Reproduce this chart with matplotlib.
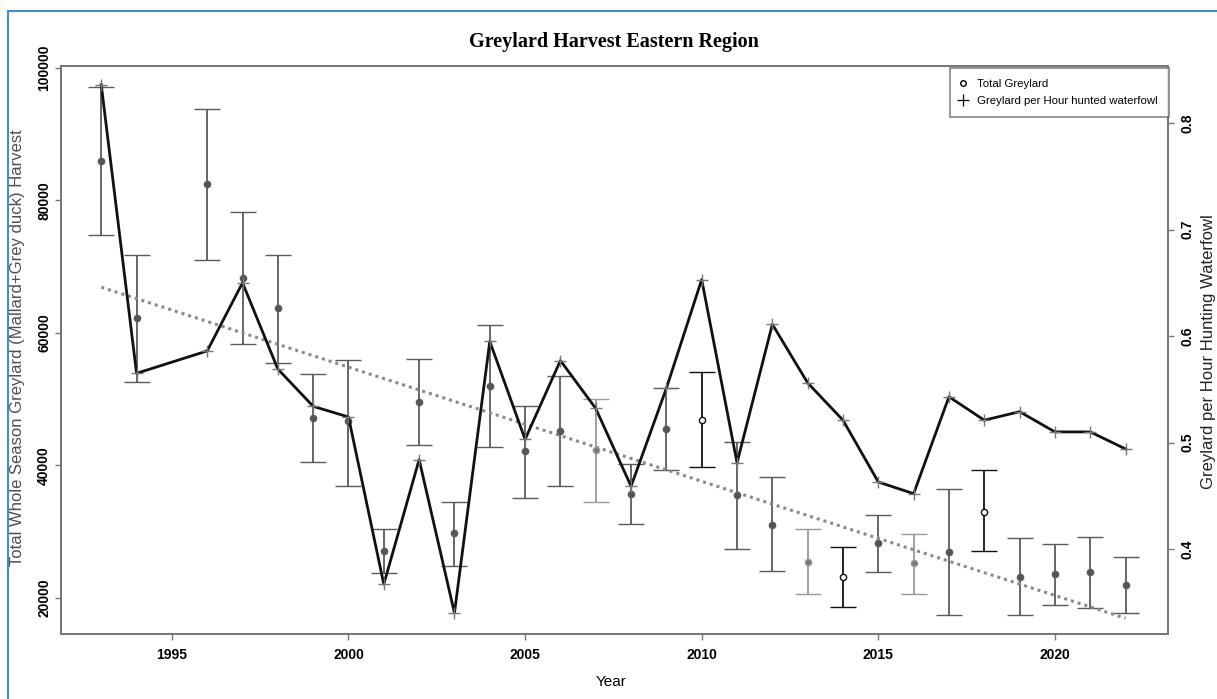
import numpy as np
import matplotlib
matplotlib.use("Agg")
import matplotlib.pyplot as plt
from matplotlib.lines import Line2D

# survey years (no survey in 1995)
years = [1993, 1994, 1996, 1997, 1998, 1999, 2000, 2001, 2002, 2003,
         2004, 2005, 2006, 2007, 2008, 2009, 2010, 2011, 2012, 2013,
         2014, 2015, 2016, 2017, 2018, 2019, 2020, 2021, 2022]

# total whole season greylard harvest with confidence limits
total_harvest = [86000, 62200, 82500, 68200, 63700, 47200, 46600, 27000, 49600, 29700,
                 52000, 42100, 45200, 42300, 35700, 45500, 46800, 35500, 31000, 25400,
                 23100, 28200, 25200, 26900, 33000, 23100, 23500, 23800, 21900]
harvest_upper = [97100, 71800, 93800, 78200, 71800, 53800, 55900, 30300, 56000, 34500,
                 61200, 48900, 53400, 50000, 40200, 51600, 54000, 43500, 38200, 30400,
                 27600, 32500, 29600, 36400, 39200, 29000, 28100, 29100, 26200]
harvest_lower = [74700, 52600, 71000, 58300, 55400, 40500, 36800, 23700, 43100, 24800,
                 42800, 35100, 36900, 34500, 31100, 39200, 39700, 27400, 24000, 20500,
                 18600, 23900, 20600, 17400, 27000, 17300, 18900, 18400, 17700]

# greylard per hour hunted waterfowl
per_hour = [0.836, 0.565, 0.586, 0.650, 0.569, 0.534, 0.524, 0.367, 0.484, 0.340,
            0.595, 0.503, 0.577, 0.532, 0.459, 0.551, 0.653, 0.481, 0.611, 0.556,
            0.521, 0.463, 0.452, 0.543, 0.521, 0.529, 0.510, 0.510, 0.494]

dark_years = {2010, 2014, 2018}
light_years = {2007, 2013, 2016}

fig = plt.figure(figsize=(12.17, 6.99), dpi=100)
ax = fig.add_axes([0.0501, 0.093, 0.9096, 0.8126])
ax2 = ax.twinx()

# error bars for total harvest
for yr, v, lo, hi in zip(years, total_harvest, harvest_lower, harvest_upper):
    if yr in dark_years:
        col, face = "#111111", "white"
    elif yr in light_years:
        col, face = "#9a9a9a", "#777777"
    else:
        col, face = "#5a5a5a", "#555555"
    ax.errorbar([yr], [v], yerr=[[v - lo], [hi - v]], fmt="o", color=col,
                ecolor=col, elinewidth=1.3, capsize=9.5, capthick=1.3,
                markersize=4.5, markerfacecolor=face, markeredgecolor=col,
                markeredgewidth=1)

# linear trend of total harvest
coef = np.polyfit(years, total_harvest, 1)
ty = np.array([years[0], years[-1]])
ax.plot(ty, np.polyval(coef, ty), color="#8a8a8a", lw=2.2,
        linestyle=(0, (1, 1.3)))

# per hour line
ax2.plot(years, per_hour, color="#111111", lw=2, marker="+",
         markersize=8, markeredgecolor="#777777", markeredgewidth=1)

ax.set_xlim(1991.86, 2023.2)
ax.set_ylim(14500, 100300)
ax2.set_ylim(0.3203, 0.8535)

ax.set_xticks([1995, 2000, 2005, 2010, 2015, 2020])
ax.set_yticks([20000, 40000, 60000, 80000, 100000])
ax2.set_yticks([0.4, 0.5, 0.6, 0.7, 0.8])
ax2.set_yticklabels(["0.4", "0.5", "0.6", "0.7", "0.8"])

for a in (ax, ax2):
    for s in a.spines.values():
        s.set_color("#777777")
        s.set_linewidth(1.3)
    a.tick_params(colors="#777777", labelcolor="black", length=4, width=1)
    for lab in a.get_xticklabels() + a.get_yticklabels():
        lab.set_fontfamily("Liberation Sans")
        lab.set_fontweight("bold")
        lab.set_fontsize(10)

ax.tick_params(axis="x", pad=6)
ax.tick_params(axis="y", pad=3)
ax2.tick_params(axis="y", pad=5)
for lab in ax.get_yticklabels():
    lab.set_rotation(90)
    lab.set_va("center")
for lab in ax2.get_yticklabels():
    lab.set_rotation(90)
    lab.set_va("center")

ax.set_xlabel("Year", family="Liberation Sans", fontsize=11)
ax.xaxis.set_label_coords(0.497, -0.072)

fig.text(18 / 1217, 1 - 348 / 699,
         "Total Whole Season Greylard (Mallard+Grey duck) Harvest",
         rotation=90, ha="center", va="center", family="Liberation Sans",
         fontsize=12, color="#4a4f57")
fig.text(1209 / 1217, 1 - 352 / 699, "Greylard per Hour Hunting Waterfowl",
         rotation=90, ha="center", va="center", family="Liberation Sans",
         fontsize=12, color="#222222")

fig.text(0.5045, 1 - 42 / 699, "Greylard Harvest Eastern Region", ha="center",
         va="center", family="Liberation Serif", fontweight="bold", fontsize=14.5)

handles = [Line2D([], [], linestyle="none", marker="o", markersize=4,
                  markerfacecolor="white", markeredgecolor="black"),
           Line2D([], [], linestyle="none", marker="+", markersize=9,
                  markeredgecolor="black", markeredgewidth=0.9)]
leg = ax2.legend(handles, ["Total Greylard", "Greylard per Hour hunted waterfowl"],
                 loc="upper right", bbox_to_anchor=(1.001, 0.9965), borderaxespad=0,
                 prop={"family": "Liberation Sans", "size": 8.2},
                 frameon=True, fancybox=False, handlelength=0.4, handletextpad=1.0,
                 labelspacing=0.55, borderpad=1.0)
leg.get_frame().set_edgecolor("#666666")
leg.get_frame().set_linewidth(1.2)

# blue page frame
fig.add_artist(Line2D([8 / 1217, 8 / 1217], [0, 1 - 11 / 699],
                      transform=fig.transFigure, color="#3d8fcf", lw=1.5))
fig.add_artist(Line2D([8 / 1217, 1], [1 - 11 / 699, 1 - 11 / 699],
                      transform=fig.transFigure, color="#3d8fcf", lw=1.5))

fig.savefig("out.png", dpi=100)
